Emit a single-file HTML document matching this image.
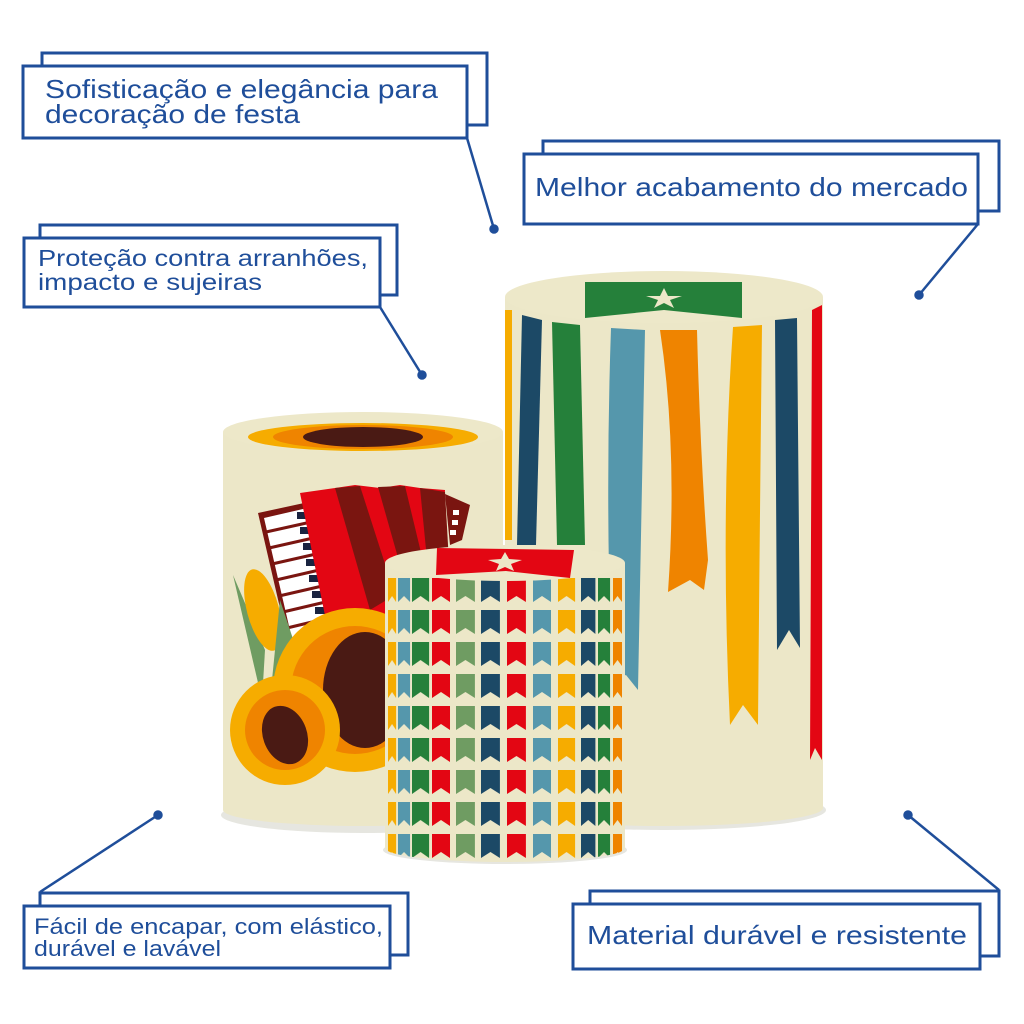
<!DOCTYPE html>
<html><head><meta charset="utf-8"><style>
html,body{margin:0;padding:0;background:#fff;}
svg{display:block;}
text{font-family:"Liberation Sans",sans-serif;fill:#1f4e9a;}
</style></head><body>
<svg width="1024" height="1024" viewBox="0 0 1024 1024" xmlns="http://www.w3.org/2000/svg">
<defs>
<pattern id="fy" patternUnits="userSpaceOnUse" width="18" height="32"><path d="M0 0H18V24L9 18L0 24Z" fill="#f6ac00"/></pattern>
<pattern id="fb" patternUnits="userSpaceOnUse" width="18" height="32"><path d="M0 0H18V24L9 18L0 24Z" fill="#5597ac"/></pattern>
<pattern id="fg" patternUnits="userSpaceOnUse" width="18" height="32"><path d="M0 0H18V24L9 18L0 24Z" fill="#25803a"/></pattern>
<pattern id="fr" patternUnits="userSpaceOnUse" width="18" height="32"><path d="M0 0H18V24L9 18L0 24Z" fill="#e30613"/></pattern>
<pattern id="fs" patternUnits="userSpaceOnUse" width="18" height="32"><path d="M0 0H18V24L9 18L0 24Z" fill="#6f9c62"/></pattern>
<pattern id="fn" patternUnits="userSpaceOnUse" width="18" height="32"><path d="M0 0H18V24L9 18L0 24Z" fill="#1c4966"/></pattern>
<pattern id="fo" patternUnits="userSpaceOnUse" width="18" height="32"><path d="M0 0H18V24L9 18L0 24Z" fill="#ef8400"/></pattern>
<clipPath id="cs"><path d="M385 563V848A120 14 0 0 0 625 848V563Z"/></clipPath>
<clipPath id="ct"><path d="M505 297V808A159 18 0 0 0 823 808V297Z"/></clipPath>
<clipPath id="cl"><path d="M223 432V810A140 16 0 0 0 503 810V432Z"/></clipPath>
</defs>

<!-- tall cylinder -->
<ellipse cx="664" cy="810" rx="162" ry="20" fill="#e6e6e0"/>
<path d="M505 297V808A159 18 0 0 0 823 808V297Z" fill="#ece7c8"/>
<g clip-path="url(#ct)">
<path d="M505 310H512V540H505Z" fill="#f6ac00"/>
<path d="M522 315L542 320L536 545L517 545Z" fill="#1c4966"/>
<path d="M552 322L580 325L585 545L557 545Z" fill="#25803a"/>
<path d="M611 328L645 330L638 690L626 675L612 680Q605 500 611 328Z" fill="#5597ac"/>
<path d="M660 330L697 330Q700 450 708 560L704 590L690 580L668 592Q678 450 660 330Z" fill="#ef8400"/>
<path d="M733 327L762 325Q760 500 758 725L743 705L730 725Q720 520 733 327Z" fill="#f6ac00"/>
<path d="M775 320L797 318L800 648L789 630L777 650Z" fill="#1c4966"/>
<path d="M812 310L822 305V760L815 748L810 760Z" fill="#e30613"/>
</g>
<ellipse cx="664" cy="297" rx="159" ry="26" fill="#ede8c9"/>
<path d="M585 282H742V318L664 310L585 318Z" fill="#25803a"/>
<path d="M664 288L668 296L682 296L670 300L674 308L664 303L654 308L658 300L646 296L660 296Z" fill="#ece7c8"/>

<!-- left cylinder -->
<ellipse cx="363" cy="815" rx="142" ry="18" fill="#e6e6e0"/>
<path d="M223 432V810A140 16 0 0 0 503 810V432Z" fill="#ece7c8"/>
<g clip-path="url(#cl)">
<path d="M258 513L318 500L345 640L292 660Z" fill="#7a1510"/>
<path d="M264 518L316 506L340 636L295 652Z" fill="#fff"/>
<g stroke="#7a1510" stroke-width="3"><line x1="266" y1="532" x2="320" y2="520"/><line x1="269" y1="548" x2="322" y2="536"/><line x1="272" y1="564" x2="325" y2="552"/><line x1="276" y1="580" x2="328" y2="568"/><line x1="279" y1="596" x2="331" y2="584"/><line x1="283" y1="612" x2="334" y2="600"/><line x1="287" y1="628" x2="337" y2="616"/></g>
<g fill="#1a2340"><rect x="297" y="512" width="14" height="7"/><rect x="300" y="527" width="14" height="7"/><rect x="303" y="543" width="14" height="7"/><rect x="306" y="559" width="14" height="7"/><rect x="309" y="575" width="14" height="7"/><rect x="312" y="591" width="14" height="7"/><rect x="315" y="607" width="14" height="7"/></g>
<path d="M300 493L335 488L355 485L380 488L400 485L420 488L445 490L440 600L330 640Z" fill="#e30613"/>
<path d="M335 488L360 486L395 595L370 610Z" fill="#7a1510"/>
<path d="M378 487L405 486L430 590L410 600Z" fill="#7a1510"/>
<path d="M420 488L445 492L450 580L430 590Z" fill="#7a1510"/>
<path d="M445 494L470 505L462 540L450 545Z" fill="#7a1510"/>
<rect x="453" y="510" width="6" height="5" fill="#fff"/><rect x="452" y="520" width="6" height="5" fill="#fff"/><rect x="450" y="530" width="6" height="5" fill="#fff"/>
<path d="M233 575L265 650L262 700Z" fill="#6f9c62"/>
<ellipse cx="263" cy="610" rx="16" ry="42" fill="#f6ac00" transform="rotate(-15 263 610)"/>
<path d="M280 600L300 660L270 700Z" fill="#6f9c62"/>
<circle cx="355" cy="690" r="82" fill="#f6ac00"/>
<circle cx="355" cy="690" r="64" fill="#ef8400"/>
<ellipse cx="365" cy="690" rx="42" ry="58" fill="#4a1a14"/>
<circle cx="285" cy="730" r="55" fill="#f6ac00"/>
<circle cx="285" cy="730" r="40" fill="#ef8400"/>
<ellipse cx="285" cy="735" rx="22" ry="30" fill="#4a1a14" transform="rotate(-20 285 735)"/>
</g>
<ellipse cx="363" cy="432" rx="140" ry="20" fill="#ede8c9"/>
<ellipse cx="363" cy="437" rx="115" ry="14" fill="#f6ac00"/>
<ellipse cx="363" cy="437" rx="90" ry="12" fill="#ef8400"/>
<ellipse cx="363" cy="437" rx="60" ry="10" fill="#4a1a14"/>

<!-- small cylinder -->
<ellipse cx="505" cy="850" rx="122" ry="14" fill="#e6e6e0"/>
<path d="M385 563V848A120 14 0 0 0 625 848V563Z" fill="#ece7c8"/>
<g clip-path="url(#cs)">
<g transform="translate(388,578) scale(0.45,1)"><rect width="18" height="300" fill="url(#fy)"/></g>
<g transform="translate(398,578) scale(0.67,1)"><rect width="18" height="300" fill="url(#fb)"/></g>
<g transform="translate(412,578) scale(0.95,1)"><rect width="18" height="300" fill="url(#fg)"/></g>
<g transform="translate(432,578)"><rect width="18" height="300" fill="url(#fr)"/></g>
<g transform="translate(456,578) scale(1.05,1)"><rect width="18" height="300" fill="url(#fs)"/></g>
<g transform="translate(481,578) scale(1.05,1)"><rect width="18" height="300" fill="url(#fn)"/></g>
<g transform="translate(507,578) scale(1.05,1)"><rect width="18" height="300" fill="url(#fr)"/></g>
<g transform="translate(533,578)"><rect width="18" height="300" fill="url(#fb)"/></g>
<g transform="translate(558,578) scale(0.95,1)"><rect width="18" height="300" fill="url(#fy)"/></g>
<g transform="translate(581,578) scale(0.8,1)"><rect width="18" height="300" fill="url(#fn)"/></g>
<g transform="translate(598,578) scale(0.67,1)"><rect width="18" height="300" fill="url(#fg)"/></g>
<g transform="translate(613,578) scale(0.5,1)"><rect width="18" height="300" fill="url(#fo)"/></g>
</g>
<ellipse cx="505" cy="563" rx="120" ry="18" fill="#ede8c9"/>
<path d="M437 548L574 550L570 578L506 571L436 575Z" fill="#e30613"/>
<path d="M505 552L509 559L522 560L511 564L514 571L505 567L496 571L499 564L488 560L501 559Z" fill="#ece7c8"/>

<!-- callouts -->
<g fill="#fff" stroke="#1f4e9a" stroke-width="3">
<rect x="42" y="53" width="445" height="72"/><rect x="23" y="66" width="444" height="72"/>
<rect x="543" y="141" width="456" height="70"/><rect x="524" y="154" width="454" height="70"/>
<rect x="40" y="225" width="357" height="70"/><rect x="24" y="238" width="356" height="69"/>
<rect x="40" y="893" width="368" height="62"/><rect x="24" y="906" width="366" height="62"/>
<rect x="590" y="891" width="409" height="65"/><rect x="573" y="904" width="407" height="65"/>
</g>
<g stroke="#1f4e9a" stroke-width="2.5" fill="#1f4e9a">
<line x1="467" y1="138" x2="494" y2="229"/><circle cx="494" cy="229" r="3.5"/>
<line x1="978" y1="224" x2="919" y2="295"/><circle cx="919" cy="295" r="3.5"/>
<line x1="380" y1="307" x2="422" y2="375"/><circle cx="422" cy="375" r="3.5"/>
<line x1="40" y1="892" x2="158" y2="815"/><circle cx="158" cy="815" r="3.5"/>
<line x1="999" y1="890" x2="908" y2="815"/><circle cx="908" cy="815" r="3.5"/>
</g>
<text x="45" y="98" font-size="26" textLength="393" lengthAdjust="spacingAndGlyphs">Sofisticação e elegância para</text>
<text x="45" y="123" font-size="26" textLength="255" lengthAdjust="spacingAndGlyphs">decoração de festa</text>
<text x="535" y="196" font-size="26" textLength="433" lengthAdjust="spacingAndGlyphs">Melhor acabamento do mercado</text>
<text x="38" y="266" font-size="23" textLength="330" lengthAdjust="spacingAndGlyphs">Proteção contra arranhões,</text>
<text x="38" y="290" font-size="23" textLength="224" lengthAdjust="spacingAndGlyphs">impacto e sujeiras</text>
<text x="34" y="934" font-size="22" textLength="349" lengthAdjust="spacingAndGlyphs">Fácil de encapar, com elástico,</text>
<text x="34" y="956" font-size="22" textLength="187" lengthAdjust="spacingAndGlyphs">durável e lavável</text>
<text x="587" y="944" font-size="26" textLength="380" lengthAdjust="spacingAndGlyphs">Material durável e resistente</text>
</svg>
</body></html>
